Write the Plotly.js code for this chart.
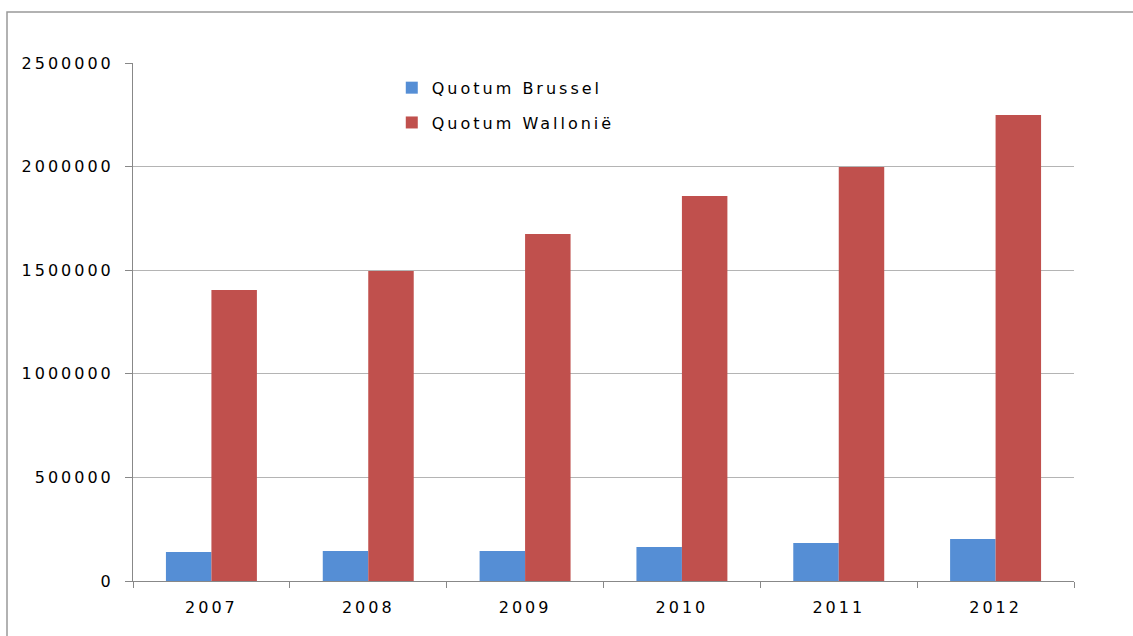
<!DOCTYPE html>
<html>
<head>
<meta charset="utf-8">
<script src="https://cdn.plot.ly/plotly-3.0.1.min.js"></script>
<style>
html, body { margin: 0; padding: 0; background: #fff; }
#chart { width: 1133px; height: 636px; }
.main-svg text { letter-spacing: 3px; }
.legend, .legend * { clip-path: none !important; }
</style>
</head>
<body>
<div id="chart"></div>
<script>
const years = ['2007', '2008', '2009', '2010', '2011', '2012'];
const quotumBrussel = [140000, 145000, 145000, 164000, 183000, 203000];
const quotumWallonie = [1404000, 1496000, 1675000, 1858000, 1998000, 2249000];
const yTicks = [0, 500000, 1000000, 1500000, 2000000, 2500000];

const font = { family: 'DejaVu Sans, sans-serif', size: 16, color: '#000' };

const traces = [
  { type: 'bar', name: 'Quotum Brussel', x: years, y: quotumBrussel,
    marker: { color: '#558ED5' }, legendgroup: 'a' },
  { type: 'bar', name: 'Quotum Wallonië', x: years, y: quotumWallonie,
    marker: { color: '#C0504D' }, legendgroup: 'b' }
];

const layout = {
  width: 1133, height: 636,
  margin: { l: 133, r: 59, t: 63, b: 55 },
  paper_bgcolor: '#fff', plot_bgcolor: '#fff',
  font: font,
  barmode: 'group', bargap: 0.42, bargroupgap: 0,
  showlegend: true,
  legend: { x: 0.275, y: 0.985, xanchor: 'left', yanchor: 'top',
            bgcolor: 'rgba(0,0,0,0)', font: font,
            traceorder: 'grouped', tracegroupgap: 11 },
  xaxis: {
    type: 'category', tickson: 'boundaries',
    showline: true, linecolor: '#888', linewidth: 1,
    ticks: 'outside', ticklen: 6, tickcolor: '#888',
    showgrid: false, zeroline: false,
    ticklabelstandoff: 12, tickfont: font
  },
  yaxis: {
    range: [0, 2500000], tickvals: yTicks, tickformat: 'd',
    showline: true, linecolor: '#888', linewidth: 1,
    ticks: 'outside', ticklen: 7, tickcolor: '#888',
    showgrid: true, gridcolor: '#b4b4b4', gridwidth: 1,
    zeroline: false, ticklabelstandoff: 8, tickfont: font
  },
  shapes: [
    { type: 'rect', xref: 'paper', yref: 'paper',
      x0: (7 - 133) / 941, x1: (1140 - 133) / 941,
      y0: (581 - 640) / 518, y1: (581 - 12) / 518,
      line: { color: '#999', width: 1.5 }, fillcolor: 'rgba(0,0,0,0)', layer: 'below' }
  ]
};

Plotly.newPlot('chart', traces, layout, { displayModeBar: false, staticPlot: true });
</script>
</body>
</html>
